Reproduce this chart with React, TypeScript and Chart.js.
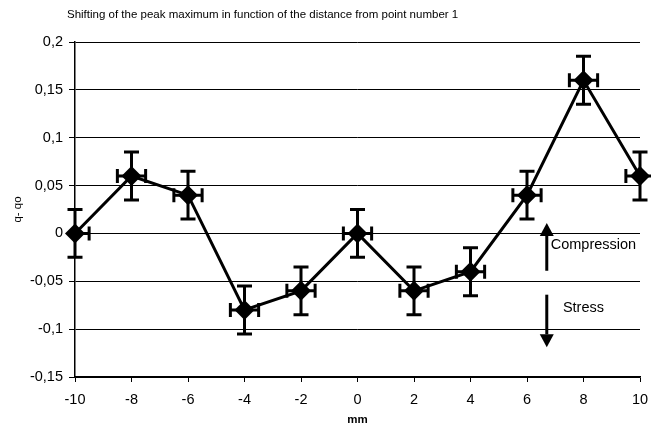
import React, { useEffect, useRef } from 'react';
import { Chart, registerables } from 'chart.js';

Chart.register(...registerables);

const chartTitle = 'Shifting of the peak maximum in function of the distance from point number 1';
const xAxisTitle = 'mm';
const yAxisTitle = 'q- qo';
const distances = [-10, -8, -6, -4, -2, 0, 2, 4, 6, 8, 10];
const shifts = [0, 0.06, 0.04, -0.08, -0.06, 0, -0.06, -0.04, 0.04, 0.16, 0.06];
const xErrorsMinus = [0, 0.5, 0.5, 0.5, 0.5, 0.5, 0.5, 0.5, 0.5, 0.5, 0.5];
const xErrorsPlus = [0.5, 0.5, 0.5, 0.5, 0.5, 0.5, 0.5, 0.5, 0.5, 0.5, 0.5];
const yErrors = [0.025, 0.025, 0.025, 0.025, 0.025, 0.025, 0.025, 0.025, 0.025, 0.025, 0.025];
const compressionLabel = 'Compression';
const stressLabel = 'Stress';

const FONT = '"Liberation Sans", Arial, sans-serif';

const fmt = (v: number) => String(Math.round(v * 100) / 100).replace('.', ',');

const errorBarPlugin = {
  id: 'errorBars',
  afterDatasetsDraw(chart: any) {
    const { ctx, scales } = chart;
    const xs = scales.x;
    const ys = scales.y;
    ctx.save();
    ctx.strokeStyle = '#000';
    ctx.lineWidth = 3;
    ctx.lineCap = 'butt';
    distances.forEach((d, i) => {
      const px = xs.getPixelForValue(d);
      const py = ys.getPixelForValue(shifts[i]);
      const yTop = ys.getPixelForValue(shifts[i] + yErrors[i]);
      const yBot = ys.getPixelForValue(shifts[i] - yErrors[i]);
      ctx.beginPath();
      ctx.moveTo(px, yTop);
      ctx.lineTo(px, yBot);
      ctx.moveTo(px - 7.5, yTop);
      ctx.lineTo(px + 7.5, yTop);
      ctx.moveTo(px - 7.5, yBot);
      ctx.lineTo(px + 7.5, yBot);
      if (xErrorsMinus[i] > 0) {
        const xL = xs.getPixelForValue(d - xErrorsMinus[i]);
        ctx.moveTo(xL, py);
        ctx.lineTo(px, py);
        ctx.moveTo(xL, py - 7);
        ctx.lineTo(xL, py + 7);
      }
      if (xErrorsPlus[i] > 0) {
        const xR = xs.getPixelForValue(d + xErrorsPlus[i]);
        ctx.moveTo(px, py);
        ctx.lineTo(xR, py);
        ctx.moveTo(xR, py - 7);
        ctx.lineTo(xR, py + 7);
      }
      ctx.stroke();
    });
    ctx.restore();
  },
};

const annotationPlugin = {
  id: 'annotations',
  afterDraw(chart: any) {
    const { ctx, scales } = chart;
    const xs = scales.x;
    const ys = scales.y;
    ctx.save();
    ctx.fillStyle = '#000';
    ctx.font = `11.5px ${FONT}`;
    ctx.textBaseline = 'middle';
    ctx.textAlign = 'left';
    ctx.fillText(chartTitle, 67, 15);

    const ax = xs.getPixelForValue(6.7);
    const drawArrow = (from: number, to: number) => {
      const y0 = ys.getPixelForValue(from);
      const y1 = ys.getPixelForValue(to);
      const dir = y1 < y0 ? -1 : 1;
      const headLen = 13;
      ctx.strokeStyle = '#000';
      ctx.lineWidth = 3;
      ctx.beginPath();
      ctx.moveTo(ax, y0);
      ctx.lineTo(ax, y1 - dir * headLen);
      ctx.stroke();
      ctx.beginPath();
      ctx.moveTo(ax, y1);
      ctx.lineTo(ax - 7, y1 - dir * headLen);
      ctx.lineTo(ax + 7, y1 - dir * headLen);
      ctx.closePath();
      ctx.fill();
    };
    drawArrow(-0.039, 0.011);
    drawArrow(-0.064, -0.119);

    ctx.font = `14.5px ${FONT}`;
    ctx.fillText(compressionLabel, xs.getPixelForValue(6.84), ys.getPixelForValue(-0.012));
    ctx.fillText(stressLabel, xs.getPixelForValue(7.27), ys.getPixelForValue(-0.078));
    ctx.restore();
  },
};

export default function App() {
  const ref = useRef<HTMLCanvasElement>(null);
  useEffect(() => {
    if (!ref.current) return;
    const chart = new Chart(ref.current, {
      type: 'scatter',
      data: {
        datasets: [
          {
            data: distances.map((d, i) => ({ x: d, y: shifts[i] })),
            showLine: true,
            borderColor: '#000',
            backgroundColor: '#000',
            borderWidth: 3,
            pointStyle: 'rectRot',
            pointRadius: 10,
            pointBorderWidth: 0,
            pointBackgroundColor: '#000',
            clip: false,
          } as any,
        ],
      },
      options: {
        animation: false,
        responsive: false,
        devicePixelRatio: 1,
        layout: { padding: { top: 42, right: 11, left: 0, bottom: 0 } },
        plugins: {
          legend: { display: false },
          tooltip: { enabled: false },
          title: { display: false },
        },
        scales: {
          x: {
            type: 'linear',
            min: -10,
            max: 10,
            afterFit: (s: any) => { s.height = 53; s.paddingLeft = 0; s.paddingRight = 0; },
            ticks: {
              stepSize: 2,
              color: '#000',
              font: { family: FONT, size: 14.5 },
              padding: 9,
              maxRotation: 0,
              callback: (v: any) => fmt(Number(v)),
            },
            grid: { drawOnChartArea: false, color: '#000', tickLength: 5, lineWidth: 1 },
            border: { color: '#000', width: 1.5 },
            title: {
              display: true,
              text: xAxisTitle,
              color: '#000',
              font: { family: FONT, size: 11.5, weight: 'bold' },
              padding: { top: 0, bottom: 3 },
            },
          },
          y: {
            type: 'linear',
            min: -0.15,
            max: 0.2,
            afterFit: (s: any) => { s.width = 75; s.paddingTop = 0; s.paddingBottom = 0; },
            ticks: {
              stepSize: 0.05,
              color: '#000',
              font: { family: FONT, size: 14.5 },
              padding: 6,
              callback: (v: any) => fmt(Number(v)),
            },
            grid: { color: '#000', tickLength: 6, lineWidth: 1 },
            border: { color: '#000', width: 1.5 },
            title: {
              display: true,
              text: yAxisTitle,
              color: '#000',
              font: { family: FONT, size: 11.5 },
              padding: { top: 11, bottom: 0 },
            },
          },
        },
      },
      plugins: [errorBarPlugin, annotationPlugin],
    });
    return () => chart.destroy();
  }, []);
  return (
    <div style={{ position: 'fixed', left: 0, top: 0, width: 651, height: 430, background: '#fff' }}>
      <canvas ref={ref} width={651} height={430} style={{ display: 'block' }} />
    </div>
  );
}
